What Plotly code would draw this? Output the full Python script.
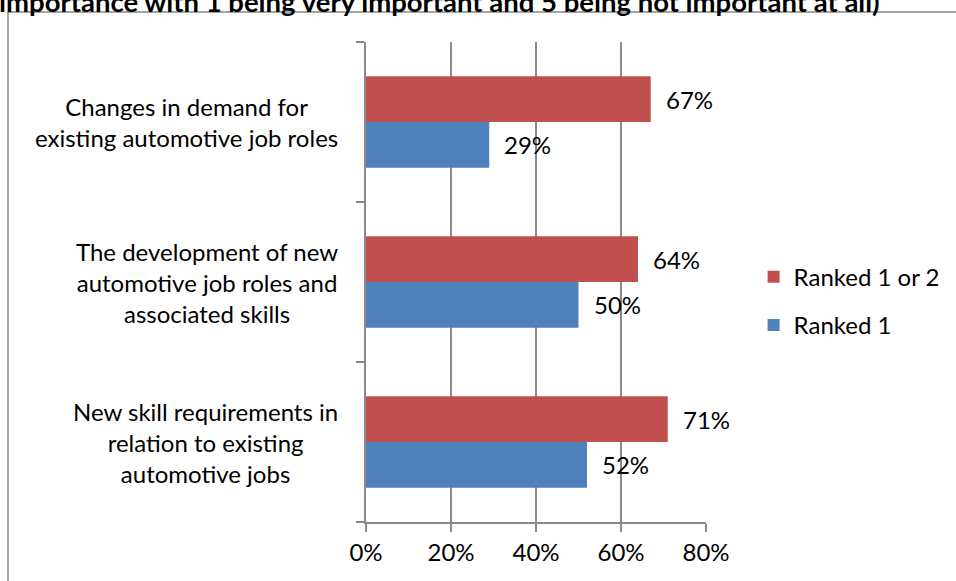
import plotly.graph_objects as go

categories = [
    "New skill requirements in<br>relation to existing<br>automotive jobs",
    "The development of new<br>automotive job roles and<br>associated skills",
    "Changes in demand for<br>existing automotive job roles",
]
ranked_1 = [52, 50, 29]
ranked_1_or_2 = [71, 64, 67]
series_names = ["Ranked 1", "Ranked 1 or 2"]
colors = ["#4F81BD", "#C0504D"]
legend_ranks = [2, 1]
x_ticks = [0, 20, 40, 60, 80]
x_tick_labels = ["0%", "20%", "40%", "60%", "80%"]
title_text = "importance with 1 being very important and 5 being not important at all)"

FONT = "Lato"
FS = 24
GRID = "#8a8a8a"
bargap = 1.5 / 3.5

fig = go.Figure()
series = [ranked_1, ranked_1_or_2]
for i, (name, vals, col) in enumerate(zip(series_names, series, colors)):
    fig.add_trace(go.Bar(
        y=list(range(len(categories))), x=vals, orientation="h", name=name,
        marker=dict(color=col, line=dict(width=0)),
        legendgroup=name, legendrank=legend_ranks[i],
    ))

bar_w = (1 - bargap) / 2
annotations = []
for i, vals in enumerate(series):
    off = (i - 0.5) * bar_w
    for j, v in enumerate(vals):
        annotations.append(dict(
            x=v, y=j + off, xref="x", yref="y", text=f"{v}%", showarrow=False,
            xanchor="left", xshift=13, font=dict(family=FONT, size=FS, color="#000"),
        ))
for j, c in enumerate(categories):
    annotations.append(dict(
        x=0, y=j, xref="paper", yref="y", text=c, showarrow=False,
        xanchor="right", xshift=-26, align="center",
        font=dict(family=FONT, size=FS, color="#000"),
    ))
annotations.append(dict(
    x=(0 - 366) / 340, y=(522 + 2) / 480, xref="paper", yref="paper",
    text="<b>" + title_text + "</b>", showarrow=False,
    xanchor="left", yanchor="middle", xshift=-3, yshift=-3,
    font=dict(family=FONT, size=27.5, color="#000"),
))

fig.update_layout(
    width=956, height=581,
    margin=dict(l=366, r=250, t=42, b=59, autoexpand=False),
    paper_bgcolor="white", plot_bgcolor="white",
    barmode="group", bargap=bargap, bargroupgap=0,
    font=dict(family=FONT, size=FS, color="#000"),
    legend=dict(x=1.14, xanchor="left", y=0.46, yanchor="middle",
                traceorder="grouped", tracegroupgap=14, itemwidth=30,
                font=dict(family=FONT, size=FS), bgcolor="rgba(0,0,0,0)"),
    annotations=annotations,
    showlegend=True,
)
fig.update_xaxes(
    range=[0, 80], tickvals=x_ticks, ticktext=x_tick_labels,
    showgrid=True, gridcolor=GRID, gridwidth=1.5,
    showline=True, linecolor=GRID, linewidth=1.5,
    ticks="outside", ticklen=8, tickcolor=GRID, tickwidth=1.5,
    zeroline=False, tickfont=dict(family=FONT, size=FS),
)
fig.update_yaxes(
    range=[-0.5, 2.5], tickvals=[-0.5, 0.5, 1.5, 2.5], ticktext=["", "", "", ""],
    showgrid=False, showline=True, linecolor=GRID, linewidth=1.5,
    ticks="outside", ticklen=8, tickcolor=GRID, tickwidth=1.5, zeroline=False,
)
fig.add_shape(type="rect", xref="paper", yref="paper",
              x0=(8 - 366) / 340, x1=2.0, y0=-0.3, y1=(522 - 12) / 480,
              line=dict(color="#868686", width=1.5), fillcolor="rgba(0,0,0,0)", layer="below")

fig.write_html("out.html")
